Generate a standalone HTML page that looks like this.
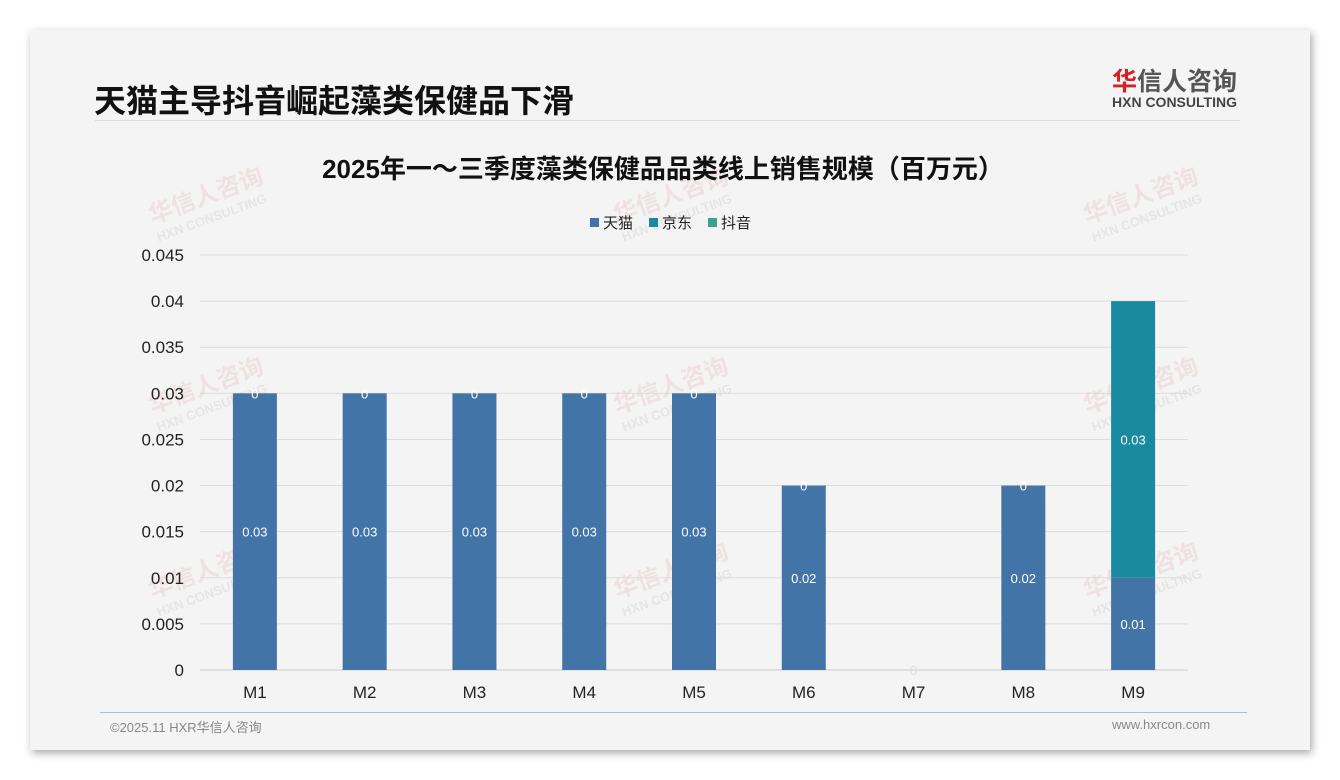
<!DOCTYPE html>
<html><head><meta charset="utf-8"><style>
body{margin:0;width:1340px;height:780px;background:#fff;font-family:"Liberation Sans","Noto Sans CJK SC",sans-serif;position:relative;overflow:hidden}
.card{position:absolute;left:30px;top:30px;width:1280px;height:720px;background:#f4f4f4;box-shadow:2px 3px 8px rgba(0,0,0,.35)}
.t{position:absolute;white-space:nowrap}
.wm{position:absolute;color:rgba(200,60,60,.10);transform:rotate(-20deg);font-weight:bold;font-size:24px;line-height:22px}
.wm small{display:block;font-size:13px;color:rgba(120,120,120,.12)}
</style></head><body>
<div class="card">
<div class="t" style="left:64px;top:46px;font-size:32px;font-weight:bold;color:#111">天猫主导抖音崛起藻类保健品下滑</div>
<div class="t" style="left:1082px;top:32px;font-size:25px;font-weight:bold;color:#555"><span style="color:#d42027">华</span>信人咨询</div>
<div class="t" style="left:1082px;top:64px;font-size:14px;font-weight:bold;color:#444">HXN CONSULTING</div>
<div style="position:absolute;left:65px;top:90px;width:1145px;height:1px;background:#ddd"></div>
<div style="position:absolute;left:70px;top:682px;width:1147px;height:1px;background:#a9bfd3"></div>
<div class="t" style="left:80px;top:687px;font-size:13px;color:#888">©2025.11 HXR华信人咨询</div>
<div class="t" style="left:1082px;top:687px;font-size:13px;color:#888">www.hxrcon.com</div>
</div>
<div class="wm" style="left:150px;top:185px">华信人咨询<small>HXN CONSULTING</small></div>
<div class="wm" style="left:615px;top:185px">华信人咨询<small>HXN CONSULTING</small></div>
<div class="wm" style="left:1085px;top:185px">华信人咨询<small>HXN CONSULTING</small></div>
<div class="wm" style="left:150px;top:375px">华信人咨询<small>HXN CONSULTING</small></div>
<div class="wm" style="left:615px;top:375px">华信人咨询<small>HXN CONSULTING</small></div>
<div class="wm" style="left:1085px;top:375px">华信人咨询<small>HXN CONSULTING</small></div>
<div class="wm" style="left:150px;top:560px">华信人咨询<small>HXN CONSULTING</small></div>
<div class="wm" style="left:615px;top:560px">华信人咨询<small>HXN CONSULTING</small></div>
<div class="wm" style="left:1085px;top:560px">华信人咨询<small>HXN CONSULTING</small></div>
<svg id="c" width="1340" height="780" style="position:absolute;left:0;top:0"></svg>
<script>
const categories=["M1","M2","M3","M4","M5","M6","M7","M8","M9"];
const tmall=[0.03,0.03,0.03,0.03,0.03,0.02,0,0.02,0.01];
const jd=[0,0,0,0,0,0,0,0,0.03];
const douyin=[0,0,0,0,0,0,0,0,0];
const yTicks=[0,0.005,0.01,0.015,0.02,0.025,0.03,0.035,0.04,0.045];
const yMax=0.045;
const svg=document.getElementById('c');const NS='http://www.w3.org/2000/svg';
function el(t,a,txt){const e=document.createElementNS(NS,t);for(const k in a)e.setAttribute(k,a[k]);if(txt!==undefined)e.textContent=txt;svg.appendChild(e);return e;}
const x0=200,x1=1188,yb=670,yt=255;
const y=v=>yb-(v/yMax)*(yb-yt);
const step=(x1-x0)/categories.length;
const xc=i=>x0+step*(i+0.5);
let e=el('text',{x:663,y:178,'text-anchor':'middle','font-size':26,'font-weight':'bold',fill:'#111'},'2025年一～三季度藻类保健品品类线上销售规模（百万元）');

yTicks.forEach(v=>{
 let g=el('line',{x1:x0,x2:x1,y1:y(v),y2:y(v),stroke:v===0?'#ccc':'#dcdcdc','stroke-width':1});
 
 let t=el('text',{x:184,y:y(v)+6,'text-anchor':'end','font-size':17,fill:'#222'},String(v));
 
});
const leg=[['天猫','#4274a8'],['京东','#1a8aa0'],['抖音','#3aa38c']];
let lx=590;
leg.forEach(([n,c])=>{
 let r=el('rect',{x:lx,y:218,width:9,height:9,fill:c});
 let t=el('text',{x:lx+13,y:228,'font-size':15,fill:'#222'},n);
 lx+=59;
});
const bw=44;
categories.forEach((c,i)=>{
 const cx=xc(i);
 let base=0;
 [[tmall,'#4274a8','bar-tmall'],[jd,'#1a8aa0','bar-jd'],[douyin,'#3aa38c','bar-douyin']].forEach(([arr,col,nm],si)=>{
  const v=arr[i];
  if(v>0){
   let r=el('rect',{x:cx-bw/2,y:y(base+v),width:bw,height:y(base)-y(base+v),fill:col});
   
   let t=el('text',{x:cx,y:(y(base)+y(base+v))/2+5,'text-anchor':'middle','font-size':13,fill:'#fff'},String(v));
   
  }
  base+=v;
 });
 if(jd[i]===0){
  let t=el('text',{x:cx,y:y(tmall[i])+5,'text-anchor':'middle','font-size':13,fill:tmall[i]>0?'#fff':'#ddd'},'0');
  
 }
 let t=el('text',{x:cx,y:698,'text-anchor':'middle','font-size':17,fill:'#222'},c);
 
});
</script>
</body></html>
